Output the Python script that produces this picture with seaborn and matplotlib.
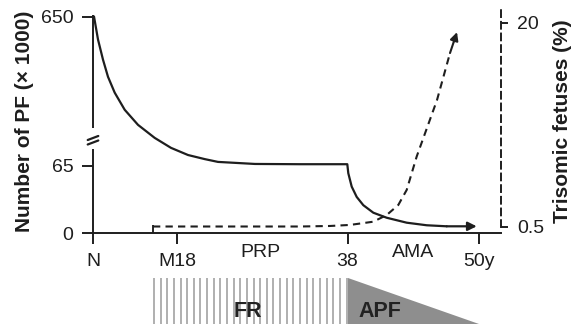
import numpy as np
import pandas as pd
import seaborn as sns
import matplotlib
matplotlib.use("Agg")
import matplotlib.pyplot as plt

# timeline positions (schematic units along the x axis)
tick_pos = [0, 84, 254.5, 386]
tick_labels = ["N", "M18", "38", "50y"]
phase_pos = [167, 320]
phase_labels = ["PRP", "AMA"]
fr_start = 60

# primordial follicles (x 1000), left axis
pf_x = [1, 5, 10, 15, 21.7, 31.7, 45, 61.7, 78, 95, 111.7, 125, 162, 207,
        254.3, 255.3, 258.7, 263.7, 270.3, 280.3, 293.7, 313.7, 333.7, 353.7, 383.7]
pf_y = [650, 560, 481, 414, 352, 285, 226, 175, 136, 108, 92, 81, 73, 72,
        72, 58, 45, 35, 27, 19.7, 14.8, 10, 7.5, 6.5, 6.5]

# trisomic fetuses (%), right axis
tri_x = [60, 207, 237, 257, 280.3, 293.7, 305.3, 313.7, 323.7, 344, 357, 364]
tri_y = [0.5, 0.5, 0.55, 0.65, 0.96, 1.6, 2.56, 4.0, 7.2, 12.6, 17.1, 19.1]

left_ticks = [0, 65, 650]
right_ticks = [0.5, 20]

INK = "#1e1e1e"
GREY = "#8e8e8e"
DASH = (0, (3.5, 2.5))

sns.set_theme(style="white")
plt.rcParams["font.family"] = ["Liberation Sans", "DejaVu Sans"]
plt.rcParams["axes.linewidth"] = 1.4


# broken left axis: 0-65 linear, 65-650 compressed
def fwd(v):
    v = np.asarray(v, dtype=float)
    return np.where(v <= 65, v * 67 / 65, 67 + (v - 65) * 149.5 / 585)


def inv(h):
    h = np.asarray(h, dtype=float)
    return np.where(h <= 67, h * 65 / 67, 65 + (h - 67) * 585 / 149.5)


def main():
    fig = plt.figure(figsize=(5.84, 3.24), dpi=100)
    ax = fig.add_axes([93 / 584, 91 / 324, 407.5 / 584, 223 / 324])

    ax.set_yscale("function", functions=(fwd, inv))
    ax.set_xlim(0, 407.5)
    ax.set_ylim(0, float(inv(223)))

    pf = pd.DataFrame({"x": pf_x, "y": pf_y})
    sns.lineplot(data=pf[:-1], x="x", y="y", ax=ax, color=INK, lw=1.6, sort=False)
    ax.annotate("", xy=(pf_x[-1], pf_y[-1]), xytext=(pf_x[-2], pf_y[-2]),
                arrowprops=dict(arrowstyle="-|>", color=INK, lw=1.6,
                                mutation_scale=13, shrinkA=0, shrinkB=0))

    ax.set_xticks(tick_pos)
    ax.set_xticklabels(tick_labels)
    ax.set_xticks([fr_start], minor=True)
    ax.set_yticks(left_ticks)
    ax.set_yticklabels([str(t) for t in left_ticks])
    ax.tick_params(axis="x", which="major", direction="out", length=8, width=1.4,
                   pad=6.5, labelsize=14, colors=INK, bottom=True)
    ax.tick_params(axis="x", which="minor", direction="in", length=5.5, width=1.4,
                   bottom=True)
    ax.tick_params(axis="y", direction="out", length=8, width=1.4, pad=6,
                   labelsize=14, colors=INK, left=True)

    for s in ["top", "right"]:
        ax.spines[s].set_visible(False)
    for s in ["left", "bottom"]:
        ax.spines[s].set_color(INK)
    ax.spines["left"].set_bounds(0, float(inv(83)))
    ax.plot([0, 0], [float(inv(105)), float(inv(218))], color=INK, lw=1.4,
            clip_on=False, solid_capstyle="butt")
    # break marks
    for f in [95 / 223, 90.5 / 223]:
        ax.plot([-0.013, 0.013], [f - 0.009, f + 0.009], transform=ax.transAxes,
                color=INK, lw=1.6, clip_on=False)

    for p, lab in zip(phase_pos, phase_labels):
        ax.text(p, -0.088, lab, transform=ax.get_xaxis_transform(), ha="center",
                va="center", fontsize=14, color=INK)

    ax.set_xlabel("")
    ax.set_ylabel("Number of PF (\u00d7 1000)", fontsize=15, fontweight="bold",
                  color=INK)
    ax.yaxis.set_label_coords(-59 / 407.5, 0.5)

    # right axis
    ax2 = ax.twinx()
    ax2.set_ylim(-0.122, 21.22)
    tri = pd.DataFrame({"x": tri_x, "y": tri_y})
    sns.lineplot(data=tri[:-1], x="x", y="y", ax=ax2, color=INK, lw=1.5,
                 sort=False, linestyle=DASH)
    tip_from = (tri_x[-2] + 0.55 * (tri_x[-1] - tri_x[-2]),
                tri_y[-2] + 0.55 * (tri_y[-1] - tri_y[-2]))
    ax2.plot([tri_x[-2], tip_from[0]], [tri_y[-2], tip_from[1]], color=INK, lw=1.5)
    ax2.annotate("", xy=(tri_x[-1], tri_y[-1]), xytext=tip_from,
                 arrowprops=dict(arrowstyle="-|>", color=INK, lw=1.5,
                                 mutation_scale=12, shrinkA=0, shrinkB=0))
    ax2.set_yticks(right_ticks)
    ax2.set_yticklabels([str(t) for t in right_ticks])
    ax2.tick_params(axis="y", direction="out", length=5, width=1.4, pad=7,
                    labelsize=14, colors=INK, right=True)
    for s in ["top", "left", "bottom"]:
        ax2.spines[s].set_visible(False)
    ax2.spines["right"].set_linestyle(DASH)
    ax2.spines["right"].set_color(INK)
    ax2.spines["right"].set_bounds(0.5, 21.22)
    ax2.set_ylabel("Trisomic fetuses (%)", fontsize=15, fontweight="bold",
                   color=INK)
    ax2.yaxis.set_label_coords(460 / 407.5, 0.5)
    ax2.set_xlabel("")

    # follicle recruitment / atresia band
    axb = fig.add_axes([93 / 584, 0, 407.5 / 584, 46 / 324])
    axb.set_xlim(0, 407.5)
    axb.set_ylim(0, 1)
    axb.axis("off")
    stripes = np.linspace(fr_start + 1, tick_pos[2] - 1, 30)
    axb.vlines(stripes, 0, 1, color="#9a9a9a", lw=1.1)
    axb.fill([tick_pos[2], tick_pos[2], tick_pos[3]], [1, 0, 0], color=GREY, lw=0)
    axb.text(154.7, 0.15, "FR", ha="center", va="baseline", fontsize=15.5,
             fontweight="bold", color="#222222")
    axb.text(265, 0.15, "APF", ha="left", va="baseline", fontsize=15.5,
             fontweight="bold", color="#222222")

    plt.savefig("out.png", dpi=100)
    plt.close()


if __name__ == "__main__":
    main()
